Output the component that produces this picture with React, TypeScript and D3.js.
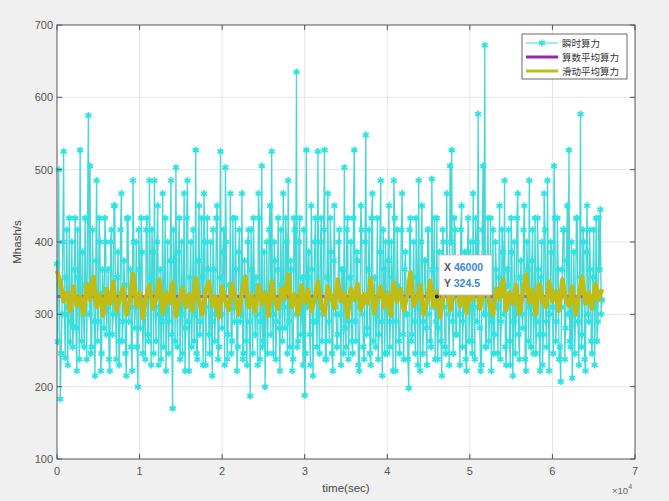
import React from 'react';
import * as d3 from 'd3';

// instantaneous hash rate, one sample every 100 sec
const sampleStep = 100;
const instantValues = [
  370, 262, 500, 341, 183, 246, 300, 400, 525, 300, 240, 351, 417, 230, 310, 433, 262, 290, 400, 255,
  283, 362, 433, 281, 222, 417, 351, 238, 527, 310, 263, 386, 300, 255, 433, 340, 238, 433, 575, 300,
  505, 246, 255, 417, 341, 290, 215, 374, 485, 263, 290, 433, 400, 222, 246, 362, 330, 281, 433, 400,
  272, 310, 362, 238, 222, 400, 417, 272, 300, 450, 450, 300, 238, 351, 386, 230, 263, 417, 467, 263,
  290, 374, 340, 246, 215, 433, 433, 290, 310, 362, 255, 222, 485, 400, 281, 310, 400, 255, 200, 417,
  362, 281, 433, 386, 246, 300, 320, 238, 417, 433, 272, 263, 485, 351, 230, 417, 386, 246, 485, 310,
  263, 400, 450, 230, 300, 362, 238, 290, 467, 255, 330, 433, 222, 300, 400, 246, 290, 374, 485, 272,
  170, 417, 374, 263, 503, 310, 255, 386, 433, 238, 300, 400, 246, 330, 467, 222, 281, 433, 485, 290,
  222, 351, 400, 255, 310, 417, 263, 300, 527, 246, 238, 374, 450, 272, 290, 433, 351, 230, 467, 400,
  230, 310, 433, 362, 272, 246, 400, 290, 215, 417, 362, 263, 300, 433, 450, 238, 255, 351, 525, 300,
  281, 386, 417, 230, 503, 400, 238, 272, 340, 310, 467, 246, 263, 433, 310, 290, 433, 362, 222, 255,
  386, 417, 290, 300, 467, 238, 246, 374, 351, 263, 230, 400, 417, 290, 187, 417, 362, 246, 433, 340,
  272, 351, 300, 230, 467, 433, 238, 290, 505, 255, 263, 386, 200, 310, 400, 246, 320, 417, 450, 272,
  525, 300, 246, 400, 374, 238, 290, 362, 433, 281, 222, 417, 341, 263, 467, 310, 281, 433, 400, 246,
  485, 290, 255, 374, 362, 222, 238, 433, 417, 300, 635, 255, 263, 400, 433, 272, 300, 351, 230, 417,
  188, 246, 527, 310, 351, 386, 272, 230, 450, 362, 215, 290, 400, 433, 290, 255, 525, 300, 246, 400,
  433, 263, 310, 417, 527, 238, 238, 351, 467, 290, 263, 433, 386, 246, 222, 374, 450, 310, 300, 255,
  272, 400, 417, 300, 230, 362, 362, 246, 503, 281, 255, 417, 433, 238, 290, 351, 400, 263, 246, 433,
  527, 290, 263, 386, 374, 230, 222, 310, 450, 417, 300, 255, 238, 400, 548, 272, 281, 362, 417, 246,
  230, 433, 467, 263, 310, 351, 255, 300, 433, 238, 272, 386, 485, 290, 215, 417, 362, 246, 400, 310,
  246, 374, 450, 255, 290, 400, 351, 222, 485, 433, 222, 290, 417, 340, 263, 246, 330, 417, 467, 272,
  238, 362, 386, 300, 300, 238, 198, 417, 433, 263, 272, 351, 400, 290, 246, 433, 351, 230, 485, 310,
  222, 400, 450, 246, 290, 374, 374, 281, 230, 417, 417, 300, 263, 255, 487, 362, 310, 433, 238, 290,
  433, 238, 281, 386, 362, 263, 215, 417, 400, 310, 255, 246, 467, 351, 300, 230, 505, 400, 527, 290,
  246, 433, 417, 272, 272, 362, 351, 300, 230, 417, 450, 255, 290, 340, 386, 238, 222, 386, 433, 263,
  310, 400, 263, 246, 467, 310, 238, 433, 400, 290, 577, 362, 281, 222, 230, 417, 505, 300, 672, 255,
  255, 374, 433, 263, 300, 433, 222, 290, 417, 246, 272, 400, 362, 310, 246, 351, 450, 238, 290, 417,
  386, 300, 485, 255, 230, 362, 340, 417, 263, 230, 433, 386, 215, 290, 400, 246, 300, 433, 467, 272,
  238, 351, 374, 300, 281, 417, 450, 238, 222, 400, 362, 263, 485, 310, 255, 374, 417, 246, 300, 433,
  246, 290, 433, 362, 272, 222, 351, 400, 230, 272, 467, 417, 290, 255, 485, 340, 222, 300, 400, 386,
  310, 246, 505, 433, 263, 290, 433, 362, 238, 255, 207, 310, 362, 417, 417, 238, 281, 374, 450, 300,
  527, 263, 255, 400, 212, 310, 386, 246, 300, 433, 433, 290, 230, 351, 577, 255, 272, 417, 400, 238,
  222, 386, 450, 300, 290, 417, 362, 263, 246, 351, 417, 230, 310, 433, 263, 290, 433, 362, 445, 300,
  320,
];

// moving average, one value every 400 sec
const avgStep = 400;
const movingValues = [
  360, 345, 318, 330, 305, 338, 312, 325, 300, 342,
  320, 352, 310, 328, 298, 335, 315, 345, 305, 322,
  338, 300, 318, 356, 312, 330, 295, 325, 340, 308,
  322, 348, 302, 330, 315, 344, 298, 320, 336, 310,
  328, 305, 350, 318, 300, 332, 345, 312, 325, 296,
  338, 318, 306, 342, 322, 300, 330, 352, 310, 326,
  304, 340, 315, 330, 298, 346, 318, 308, 336, 322,
  355, 310, 328, 300, 340, 316, 334, 305, 322, 345,
  312, 300, 338, 325, 308, 348, 318, 330, 296, 335,
  320, 342, 306, 328, 315, 350, 302, 325, 338, 310,
  330, 298, 344, 318, 335, 305, 326, 358, 312, 322,
  340, 300, 318, 346, 310, 332, 296, 328, 344, 306,
  325, 350, 312, 330, 302, 338, 320, 362, 308, 326,
  345, 312, 300, 336, 322, 348, 306, 330, 315, 340,
  302, 328, 355, 316, 334, 300, 342, 320, 310, 345,
  318, 332, 305, 348, 322, 312, 338, 300, 326, 352,
  315, 330, 308, 342, 320, 335,
];

const meanValue = 324.5;
const meanRange = [0, 66000];

const xTicks = [0, 10000, 20000, 30000, 40000, 50000, 60000, 70000];
const yTicks = [100, 200, 300, 400, 500, 600, 700];
const legendLabels = ['瞬时算力', '算数平均算力', '滑动平均算力'];
const tipX = 46000;
const tipY = 324.5;

const W = 669;
const H = 501;
const plot = { left: 57, right: 635, top: 25, bottom: 459 };

const cyan = '#2fe3e3';
const cyanLine = '#45d6d6';
const purple = '#9b27a8';
const olive = '#c2bb14';

const App = () => {
  const x = d3.scaleLinear().domain([0, 70000]).range([plot.left, plot.right]);
  const y = d3.scaleLinear().domain([100, 700]).range([plot.bottom, plot.top]);

  const line = d3
    .line<[number, number]>()
    .x((d) => x(d[0]))
    .y((d) => y(d[1]));

  const instPts: [number, number][] = instantValues.map((v, i) => [i * sampleStep, v]);
  const avgPts: [number, number][] = movingValues.map((v, i) => [i * avgStep, v]);
  const meanPts: [number, number][] = meanRange.map((t) => [t, meanValue]);

  const star = d3.symbol().type(d3.symbolAsterisk).size(34)()!;
  const font = '"Liberation Sans", Arial, sans-serif';
  const cjk = '"Noto Sans CJK SC", sans-serif';

  return (
    <svg
      width={W}
      height={H}
      style={{ position: 'absolute', left: 0, top: 0 }}
      fontFamily={font}
    >
      <rect width={W} height={H} fill="#f0f0f0" />
      <rect
        x={plot.left}
        y={plot.top}
        width={plot.right - plot.left}
        height={plot.bottom - plot.top}
        fill="#fff"
      />

      {/* grid */}
      {xTicks.slice(1, -1).map((t) => (
        <line key={'gx' + t} x1={x(t)} x2={x(t)} y1={plot.top} y2={plot.bottom} stroke="#e4e4e4" />
      ))}
      {yTicks.slice(1, -1).map((t) => (
        <line key={'gy' + t} x1={plot.left} x2={plot.right} y1={y(t)} y2={y(t)} stroke="#e4e4e4" />
      ))}

      {/* instantaneous */}
      <path d={line(instPts)!} fill="none" stroke={cyanLine} strokeWidth={1.3} />
      {instPts.map((d, i) => (
        <path
          key={'m' + i}
          d={star}
          transform={`translate(${x(d[0])},${y(d[1])})`}
          fill="none"
          stroke={cyan}
          strokeWidth={1.8}
        />
      ))}

      {/* mean */}
      <path d={line(meanPts)!} fill="none" stroke={purple} strokeOpacity={0.65} strokeWidth={3} />

      {/* moving average */}
      <path d={line(avgPts)!} fill="none" stroke={olive} strokeWidth={4.5} strokeLinejoin="round" />

      {/* axes box */}
      <rect
        x={plot.left}
        y={plot.top}
        width={plot.right - plot.left}
        height={plot.bottom - plot.top}
        fill="none"
        stroke="#555"
        strokeWidth={1}
      />
      {xTicks.map((t) => (
        <g key={'tx' + t}>
          <line x1={x(t)} x2={x(t)} y1={plot.bottom} y2={plot.bottom - 5} stroke="#555" />
          <line x1={x(t)} x2={x(t)} y1={plot.top} y2={plot.top + 5} stroke="#555" />
          <text x={x(t)} y={plot.bottom + 16} textAnchor="middle" fontSize={11} fill="#555">
            {t / 10000}
          </text>
        </g>
      ))}
      {yTicks.map((t) => (
        <g key={'ty' + t}>
          <line x1={plot.left} x2={plot.left + 5} y1={y(t)} y2={y(t)} stroke="#555" />
          <line x1={plot.right} x2={plot.right - 5} y1={y(t)} y2={y(t)} stroke="#555" />
          <text x={plot.left - 4} y={y(t) + 4} textAnchor="end" fontSize={11} fill="#555">
            {t}
          </text>
        </g>
      ))}

      <text x={346} y={492} textAnchor="middle" fontSize={11.5} fill="#444">
        time(sec)
      </text>
      <text x={612} y={494} fontSize={9.5} fill="#666">
        ×10<tspan dy={-5} fontSize={7}>4</tspan>
      </text>
      <text
        transform={`translate(21,${(plot.top + plot.bottom) / 2}) rotate(-90)`}
        textAnchor="middle"
        fontSize={11.5}
        fill="#444"
      >
        Mhash/s
      </text>

      {/* legend */}
      <g>
        <rect x={522} y={34} width={105} height={45} fill="#fff" stroke="#444" strokeWidth={0.8} />
        {legendLabels.map((lab, i) => {
          const ly = 43 + i * 14;
          const color = i === 0 ? cyanLine : i === 1 ? purple : olive;
          return (
            <g key={lab}>
              <line
                x1={526}
                x2={558}
                y1={ly}
                y2={ly}
                stroke={color}
                strokeWidth={i === 0 ? 1 : 3}
              />
              {i === 0 && (
                <path d={star} transform={`translate(542,${ly})`} fill="none" stroke={cyan} strokeWidth={1.5} />
              )}
              <text x={562} y={ly + 3.5} fontSize={9.5} fontFamily={cjk} fill="#333">
                {lab}
              </text>
            </g>
          );
        })}
      </g>

      {/* data tip */}
      <circle cx={x(tipX)} cy={y(tipY)} r={2} fill="#222" />
      <g>
        <rect x={439} y={255} width={53} height={40} fill="#fff" stroke="#bbb" strokeWidth={0.8} />
        <text x={444} y={271} fontSize={10.5} fontWeight="bold">
          <tspan fill="#555">X </tspan>
          <tspan fill="#3a8ad4">{tipX}</tspan>
        </text>
        <text x={444} y={287} fontSize={10.5} fontWeight="bold">
          <tspan fill="#555">Y </tspan>
          <tspan fill="#3a8ad4">{tipY}</tspan>
        </text>
      </g>
    </svg>
  );
};

export default App;
